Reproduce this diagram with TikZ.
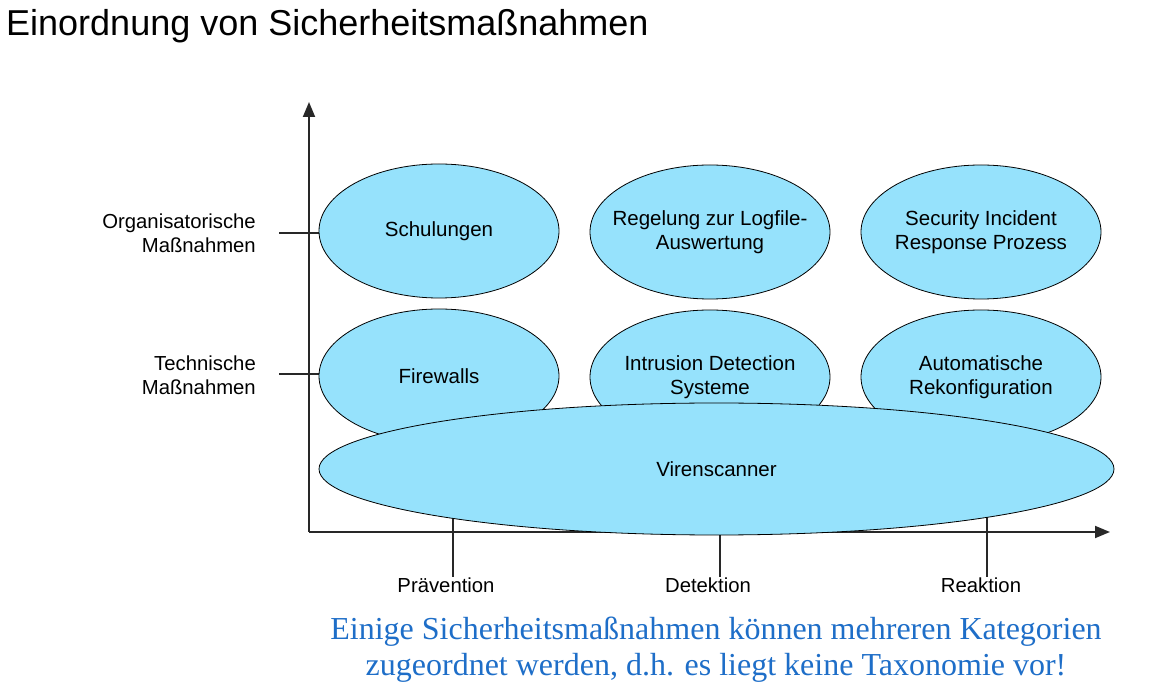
\documentclass[tikz,border=0pt]{standalone}
\usepackage{fontspec}
\setmainfont{Liberation Sans}
\newfontfamily\serifblue{Liberation Serif}
\usetikzlibrary{shapes.geometric,arrows.meta}
\definecolor{bubble}{RGB}{150,226,252}
\definecolor{axisgray}{RGB}{40,40,40}
\definecolor{noteblue}{RGB}{30,110,200}
\begin{document}
\begin{tikzpicture}[x=1pt,y=-1pt,
  bubblebox/.style={ellipse, draw=black, line width=0.8pt, fill=bubble,
    inner xsep=-20pt, inner ysep=0pt, outer sep=0pt, align=center,
    font=\fontsize{20.5}{23.5}\selectfont},
  axisline/.style={draw=axisgray, line width=1.8pt,
    -{Triangle[length=15pt,width=12pt]}},
  tickline/.style={draw=axisgray, line width=1.5pt},
  catlabel/.style={inner sep=0pt, font=\fontsize{20.3}{23.5}\selectfont}]
\useasboundingbox (0,0) rectangle (1171,692);

% title
\node[anchor=base west, inner sep=0pt, font=\fontsize{36}{40}\selectfont]
  (title) at (6,36) {Einordnung von Sicherheitsmaßnahmen};

% axes
\coordinate (origin) at (309,532);
\coordinate (ytop) at (309,102);
\coordinate (xend) at (1110,532);
\draw[axisline] (origin) -- (ytop);
\draw[axisline] (origin) -- (xend);

% tick marks on both axes
\coordinate (t1a) at (279,233);  \coordinate (t1b) at (330,233);
\coordinate (t2a) at (279,374);  \coordinate (t2b) at (330,374);
\coordinate (p1a) at (453,510);  \coordinate (p1b) at (453,577);
\coordinate (p2a) at (720,510);  \coordinate (p2b) at (720,577);
\coordinate (p3a) at (987,510);  \coordinate (p3b) at (987,577);
\draw[tickline] (t1a) -- (t1b);
\draw[tickline] (t2a) -- (t2b);
\draw[tickline] (p1a) -- (p1b);
\draw[tickline] (p2a) -- (p2b);
\draw[tickline] (p3a) -- (p3b);

% row labels
\node[catlabel, align=right, anchor=east] (orgl) at (256,233)
  {Organisatorische\\Maßnahmen};
\node[catlabel, align=right, anchor=east] (techl) at (256,375)
  {Technische\\Maßnahmen};

% column labels
\node[catlabel, anchor=base] (prev) at (446,593) {Prävention};
\node[catlabel, anchor=base] (det) at (708,593) {Detektion};
\node[catlabel, anchor=base] (reak) at (981,593) {Reaktion};

% measures
\node[bubblebox, minimum width=240pt, minimum height=134pt] (schul) at (439,231) {Schulungen};
\node[bubblebox, minimum width=240pt, minimum height=134pt] (logf) at (710,232) {Regelung zur Logfile-\\Auswertung};
\node[bubblebox, minimum width=240pt, minimum height=134pt] (sirp) at (981,232) {Security Incident\\Response Prozess};
\node[bubblebox, minimum width=240pt, minimum height=134pt] (fw) at (439,376) {Firewalls};
\node[bubblebox, minimum width=240pt, minimum height=134pt] (ids) at (710,377) {Intrusion Detection\\Systeme};
\node[bubblebox, minimum width=240pt, minimum height=134pt] (arek) at (981,377) {Automatische\\Rekonfiguration};
\node[bubblebox, minimum width=795pt, minimum height=132pt] (viren) at (716.5,469) {Virenscanner};

% note
\node[inner sep=0pt, align=center, text=noteblue,
  font=\serifblue\fontsize{32}{35.5}\selectfont, anchor=base]
  (note) at (716,675)
  {Einige Sicherheitsmaßnahmen können mehreren Kategorien\\
   zugeordnet werden, d.h. es liegt keine Taxonomie vor!};
\end{tikzpicture}
\end{document}
